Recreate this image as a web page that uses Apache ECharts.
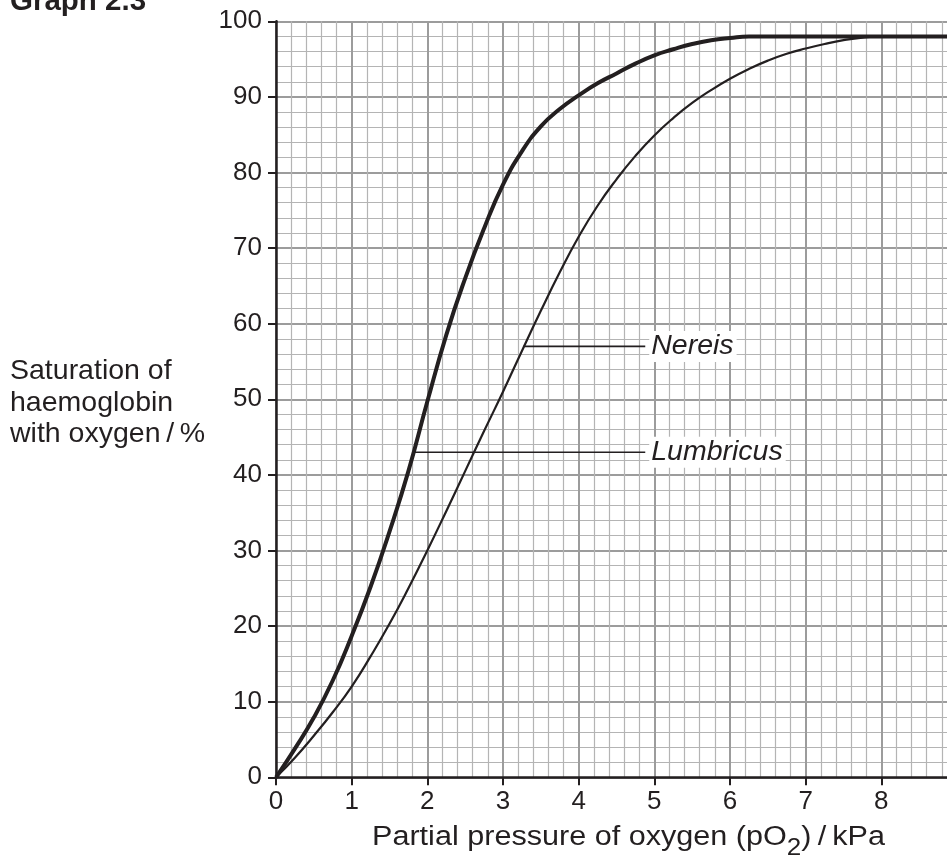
<!DOCTYPE html>
<html><head><meta charset="utf-8">
<script src="https://cdn.jsdelivr.net/npm/echarts@6/dist/echarts.min.js"></script>
<style>html,body{margin:0;padding:0;background:#fff;overflow:hidden}#c{width:962px;height:862px}</style>
</head><body><div id="c"></div>
<script>
// ---- data ----
const titleText = 'Graph 2.3';
const yNameLines = ['Saturation of', 'haemoglobin', 'with oxygen\u2009/\u2009%'];
const xNameParts = ['Partial pressure of oxygen (pO', '2', ')\u2009/\u2009kPa'];
const xMin = 0, xMax = 9, xStep = 1;
const yMin = 0, yMax = 100, yStep = 10;

// thick curve (Lumbricus)
const lumbricusPO2 = [0, 0.25, 0.5, 0.75, 1, 1.25, 1.5, 1.75, 2, 2.25, 2.5, 2.75, 3, 3.25, 3.5, 3.75, 4, 4.25, 4.5, 4.75, 5, 5.25, 5.5, 5.75, 6, 6.25, 6.5, 6.75, 7, 7.25, 7.5, 7.75, 8, 8.25, 8.5, 8.75, 9];
const lumbricusSat = [0, 3.8, 7.9, 12.8, 18.7, 25.2, 32.5, 40.5, 49.7, 58.5, 66, 72.6, 78.4, 82.8, 86.1, 88.4, 90.2, 91.8, 93.1, 94.4, 95.5, 96.3, 97, 97.5, 97.8, 98, 98, 98, 98, 98, 98, 98, 98, 98, 98, 98, 98];
// thin curve (Nereis)
const nereisPO2 = [0, 0.25, 0.5, 0.75, 1, 1.25, 1.5, 1.75, 2, 2.25, 2.5, 2.75, 3, 3.25, 3.5, 3.75, 4, 4.25, 4.5, 4.75, 5, 5.25, 5.5, 5.75, 6, 6.25, 6.5, 6.75, 7, 7.25, 7.5, 7.75, 8, 8.25, 8.5, 8.75, 9];
const nereisSat = [0, 2.6, 5.5, 8.6, 12, 16, 20.3, 25, 30, 35.2, 40.5, 45.8, 51, 56.4, 61.7, 66.8, 71.5, 75.6, 79.1, 82.2, 84.9, 87.2, 89.2, 90.9, 92.4, 93.7, 94.8, 95.7, 96.4, 97, 97.5, 97.85, 98, 98, 98, 98, 98];

// leader lines to the curve names
const labelNames = ['Nereis', 'Lumbricus'];
const labelSat = [57, 43];
const labelStartPO2 = [3.27, 1.83];
const labelEndPO2 = [4.88, 4.88];

// ---- chart ----
const INK = '#231f20';
const FONT = 'Liberation Sans, Arial, Helvetica, sans-serif';
const zip = (xs, ys) => xs.map((x, i) => [x, ys[i]]);

const ctx = document.createElement('canvas').getContext('2d');
function textW(str, size, weight) {
  ctx.font = (weight || 'normal') + ' ' + size + 'px ' + FONT;
  return ctx.measureText(str).width;
}

const axisFontSize = 26;
const nameFontSize = 28.5;
const graphics = [];
graphics.push({ type: 'text', x: 10, y: 2, style: { text: titleText, font: 'bold 29.5px ' + FONT, fill: INK, align: 'left', verticalAlign: 'middle' } });
const yNameY = [371.5, 403, 434];
yNameLines.forEach((t, i) => {
  graphics.push({ type: 'text', x: 10, y: yNameY[i], style: { text: t, font: nameFontSize + 'px ' + FONT, fill: INK, align: 'left', verticalAlign: 'middle' } });
});

// x axis name, spread to the reference width
const xNameSize = 27;
const subSize = 23;
const xNameLeft = 372, xNameWidth = 513, xNameY = 838;
const natural = textW(xNameParts[0], xNameSize) + textW(xNameParts[1], subSize) + textW(xNameParts[2], xNameSize);
const sx = xNameWidth / natural;
const parts = [];
let xx = 0;
parts.push({ type: 'text', x: xx, y: 0, style: { text: xNameParts[0], font: xNameSize + 'px ' + FONT, fill: INK, align: 'left', verticalAlign: 'middle' } });
xx += textW(xNameParts[0], xNameSize);
parts.push({ type: 'text', x: xx, y: 11, style: { text: xNameParts[1], font: subSize + 'px ' + FONT, fill: INK, align: 'left', verticalAlign: 'middle' } });
xx += textW(xNameParts[1], subSize);
parts.push({ type: 'text', x: xx, y: 0, style: { text: xNameParts[2], font: xNameSize + 'px ' + FONT, fill: INK, align: 'left', verticalAlign: 'middle' } });
graphics.push({ type: 'group', x: xNameLeft, y: xNameY, scaleX: sx, scaleY: 1, children: parts });

const majorLine = { show: true, lineStyle: { color: '#9c9c9c', width: 2 } };
const minorLine = { show: true, lineStyle: { color: '#b4b4b4', width: 1.2 } };

const series = [
  { name: 'Nereis curve', type: 'line', data: zip(nereisPO2, nereisSat), showSymbol: false, symbol: 'none', smooth: 0.5, lineStyle: { width: 2.2, color: INK }, z: 4, silent: true },
  { name: 'Lumbricus curve', type: 'line', data: zip(lumbricusPO2, lumbricusSat), showSymbol: false, symbol: 'none', smooth: 0.5, lineStyle: { width: 4, color: INK }, z: 5, silent: true }
];
labelNames.forEach((nm, i) => {
  series.push({
    name: nm, type: 'line', symbol: 'none', silent: true, z: 6,
    data: [[labelStartPO2[i], labelSat[i]], [labelEndPO2[i], labelSat[i]]],
    lineStyle: { width: 1.6, color: INK },
    endLabel: { show: true, formatter: nm, distance: 4, color: INK, fontSize: 28.5, fontStyle: 'italic', fontFamily: FONT, backgroundColor: '#ffffff', padding: [1, 3, 1, 2] }
  });
});

const chart = echarts.init(document.getElementById('c'), null, { renderer: 'canvas' });
chart.setOption({
  animation: false,
  backgroundColor: '#ffffff',
  grid: { left: 276, top: 21.3, width: 681, height: 756, containLabel: false },
  xAxis: {
    type: 'value', min: xMin, max: xMax, interval: xStep,
    axisLine: { show: true, onZero: true, lineStyle: { color: INK, width: 2.5 } },
    axisTick: { show: true, inside: false, length: 8, lineStyle: { color: INK, width: 2 } },
    axisLabel: { show: true, margin: 12, color: INK, fontSize: axisFontSize, fontFamily: FONT, formatter: v => (v >= xMax ? '' : String(v)) },
    splitLine: majorLine,
    minorTick: { show: false, splitNumber: 5 },
    minorSplitLine: minorLine
  },
  yAxis: {
    type: 'value', min: yMin, max: yMax, interval: yStep,
    axisLine: { show: true, lineStyle: { color: INK, width: 2.5 } },
    axisTick: { show: true, inside: false, length: 8, lineStyle: { color: INK, width: 2 } },
    axisLabel: { show: true, margin: 14, color: INK, fontSize: axisFontSize, fontFamily: FONT },
    splitLine: majorLine,
    minorTick: { show: false, splitNumber: 5 },
    minorSplitLine: minorLine
  },
  graphic: graphics,
  series: series
});
</script>
</body></html>
